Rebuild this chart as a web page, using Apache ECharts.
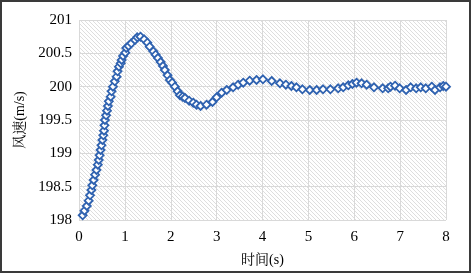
<!DOCTYPE html>
<html><head><meta charset="utf-8">
<script src="https://cdn.jsdelivr.net/npm/echarts@6/dist/echarts.min.js"></script>
<style>html,body{margin:0;padding:0;background:#fff}#c{width:472px;height:274px}</style>
</head><body><div id="c"></div>
<script>
var timeS = [0.08,0.12,0.17,0.21,0.24,0.27,0.29,0.32,0.35,0.38,0.41,0.43,0.45,0.47,0.49,0.51,0.53,0.545,0.555,0.565,0.59,0.61,0.63,0.65,0.69,0.71,0.74,0.78,0.82,0.84,0.87,0.91,0.93,0.96,1.01,1.03,1.08,1.14,1.22,1.27,1.34,1.42,1.49,1.54,1.62,1.67,1.72,1.78,1.83,1.87,1.93,1.98,2.03,2.09,2.15,2.20,2.26,2.31,2.40,2.49,2.56,2.65,2.78,2.91,3.00,3.11,3.22,3.36,3.47,3.58,3.72,3.87,4.01,4.20,4.38,4.51,4.63,4.74,4.87,5.03,5.18,5.32,5.48,5.65,5.76,5.87,5.96,6.05,6.16,6.27,6.43,6.62,6.74,6.79,6.89,6.99,7.13,7.23,7.35,7.45,7.56,7.69,7.76,7.87,7.94,8.00];
var speed = [198.07,198.14,198.21,198.29,198.37,198.45,198.52,198.60,198.68,198.75,198.83,198.90,198.97,199.05,199.12,199.20,199.27,199.34,199.42,199.50,199.57,199.64,199.71,199.78,199.85,199.93,200.00,200.08,200.15,200.23,200.30,200.35,200.40,200.46,200.51,200.58,200.61,200.65,200.70,200.74,200.75,200.71,200.66,200.60,200.53,200.48,200.43,200.37,200.31,200.25,200.17,200.10,200.06,200.00,199.93,199.87,199.85,199.83,199.79,199.76,199.73,199.71,199.73,199.77,199.84,199.91,199.95,199.99,200.03,200.06,200.09,200.10,200.11,200.085,200.05,200.03,200.01,199.99,199.96,199.95,199.95,199.96,199.96,199.975,199.99,200.02,200.04,200.06,200.05,200.03,199.99,199.975,199.975,200.00,200.015,199.975,199.95,199.99,199.975,199.99,199.975,200.00,199.95,199.99,200.01,200.00];
var xTicks = [0,1,2,3,4,5,6,7,8];
var yTicks = [198,198.5,199,199.5,200,200.5,201];

var pc = document.createElement('canvas');
pc.width = 4; pc.height = 4;
var g = pc.getContext('2d');
g.fillStyle = '#ffffff'; g.fillRect(0,0,4,4);
g.strokeStyle = '#dedede'; g.lineWidth = 1;
g.beginPath(); g.moveTo(-1,-1); g.lineTo(5,5); g.moveTo(-1,3); g.lineTo(1,5); g.moveTo(3,-1); g.lineTo(5,1); g.stroke();

var data = timeS.map(function(t,i){return [t, speed[i]];});
var font = '"Liberation Serif","Noto Serif CJK SC","Noto Sans CJK SC",serif';
var chart = echarts.init(document.getElementById('c'));
chart.setOption({
  animation:false,
  backgroundColor:'#fff',
  graphic:[{type:'rect',shape:{x:1,y:1,width:469,height:271},style:{fill:'none',stroke:'#3a3a3a',lineWidth:2},silent:true}],
  grid:{left:79,right:26,top:20,bottom:54,show:true,backgroundColor:{image:pc,repeat:'repeat'},borderWidth:0},
  xAxis:{type:'value',min:xTicks[0],max:xTicks[xTicks.length-1],interval:1,
    name:'时间(s)',nameLocation:'middle',nameGap:33,
    nameTextStyle:{fontFamily:font,fontSize:14,color:'#000'},
    axisLine:{show:false},axisTick:{show:false},
    axisLabel:{fontFamily:font,fontSize:15,color:'#000',margin:10},
    splitLine:{show:true,lineStyle:{color:'#d9d9d9',width:1}}},
  yAxis:{type:'value',min:yTicks[0],max:yTicks[yTicks.length-1],interval:0.5,
    name:'风速(m/s)',nameLocation:'middle',nameGap:52,nameRotate:90,
    nameTextStyle:{fontFamily:font,fontSize:14,color:'#000'},
    axisLine:{show:false},axisTick:{show:false},
    axisLabel:{fontFamily:font,fontSize:15,color:'#000',margin:7},
    splitLine:{show:true,lineStyle:{color:'#d9d9d9',width:1}}},
  series:[{type:'scatter',data:data,symbol:'diamond',symbolSize:8,
    itemStyle:{color:'#ffffff',borderColor:'#2f62b0',borderWidth:1.8,opacity:1}}]
});
</script></body></html>
